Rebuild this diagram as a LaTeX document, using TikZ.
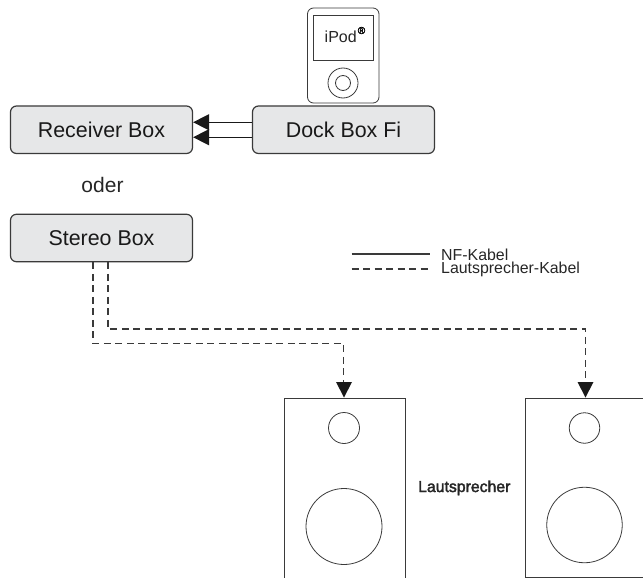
\documentclass[tikz,border=0pt]{standalone}
\usepackage{fontspec}
\setmainfont{Liberation Sans}
\newfontfamily\fakebold[FakeBold=2.4]{Liberation Sans}
\usetikzlibrary{arrows.meta}
\definecolor{boxfill}{HTML}{E6E7E8}
\definecolor{ink}{HTML}{3A3A3A}
\tikzset{
  device/.style={draw=ink,line width=1.2pt,fill=boxfill,rounded corners=6pt,minimum width=182pt,minimum height=47.5pt,inner sep=0pt,font=\fontsize{21.4}{21.4}\selectfont,text=black!90},
  cable/.style={draw=ink,line width=1.1pt},
  speakercable/.style={cable,dash pattern=on 7pt off 4.5pt},
  thin line/.style={draw=ink,line width=0.8pt},
  tip/.style={-{Triangle[length=16pt,width=16pt]},black!90},
  caption/.style={inner sep=0pt,anchor=base west,text=black!85}
}
\begin{document}
\begin{tikzpicture}[x=1pt,y=-1pt]
\useasboundingbox (0,0) rectangle (643,578);
% iPod
\node[thin line,rounded corners=6pt,minimum width=71.5pt,minimum height=95pt,inner sep=0pt,fill=white] (ipod) at (343.25,55.5) {};
\node[thin line,minimum width=60.5pt,minimum height=45pt,inner sep=0pt] (screen) at (343.25,37.5) {};
\node[inner sep=0pt,anchor=base west,font=\fontsize{16}{16}\selectfont,text=black!85] (ipodtext) at (324.5,43) {iPod};
\node[inner sep=0pt,font=\fakebold\fontsize{10}{10}\selectfont] (reg) at (361.5,30.5) {®};
\node[thin line,circle,minimum size=30pt,inner sep=0pt] (wheel) at (343,83) {};
\node[thin line,circle,minimum size=15pt,inner sep=0pt] (hub) at (343,83) {};
% boxes
\node[device] (receiver) at (101.5,129.75) {Receiver Box};
\node[device] (dock) at (343.5,129.75) {Dock Box Fi};
\node[device] (stereo) at (101.5,238) {Stereo Box};
\node[inner sep=0pt,font=\fontsize{21}{21}\selectfont,text=black!85,anchor=base] (oder) at (102.5,192) {oder};
% NF cables
\draw[cable,tip] ([yshift=7.5pt]dock.west) -- ([yshift=7.5pt]receiver.east);
\draw[cable,tip] ([yshift=-7.5pt]dock.west) -- ([yshift=-7.5pt]receiver.east);
% speakers
\coordinate (leftspk) at (344,397.5);
\coordinate (rightspk) at (585.5,397.5);
\draw[thin line] (284.5,578) -- (284.5,398) -- (405.5,398) -- (405.5,578);
\draw[thin line] (643,398) -- (525.5,398) -- (525.5,577) -- (643,577);
\node[thin line,circle,minimum size=31pt,inner sep=0pt] (ltweet) at (344,428) {};
\node[thin line,circle,minimum size=76pt,inner sep=0pt] (lwoof) at (344,526.5) {};
\node[thin line,circle,minimum size=30.5pt,inner sep=0pt] (rtweet) at (584.5,428) {};
\node[thin line,circle,minimum size=75.5pt,inner sep=0pt] (rwoof) at (584.5,525) {};
\node[caption,font=\fakebold\fontsize{15.8}{15.8}\selectfont] (lsptext) at (418,492) {Lautsprecher};
% speaker cables
\draw[speakercable] ([xshift=-8.5pt]stereo.south) |- (343.5,343.5) -- (343.5,383);
\draw[speakercable] ([xshift=6.5pt]stereo.south) |- (585.5,329) -- (585.5,383);
\fill[black!90] (leftspk) -- ++(-8,-15.5) -- ++(16,0) -- cycle;
\fill[black!90] (rightspk) -- ++(-8,-15.5) -- ++(16,0) -- cycle;
% legend
\coordinate (l1a) at (351.5,254); \coordinate (l1b) at (430,254);
\coordinate (l2a) at (351.5,269); \coordinate (l2b) at (430,269);
\draw[cable] (l1a) -- (l1b);
\draw[speakercable] (l2a) -- (l2b);
\node[caption,font=\fontsize{15.9}{15.9}\selectfont] (nf) at (441,260) {NF-Kabel};
\node[caption,font=\fontsize{15.9}{15.9}\selectfont] (ls) at (441,273) {Lautsprecher-Kabel};
\end{tikzpicture}
\end{document}
